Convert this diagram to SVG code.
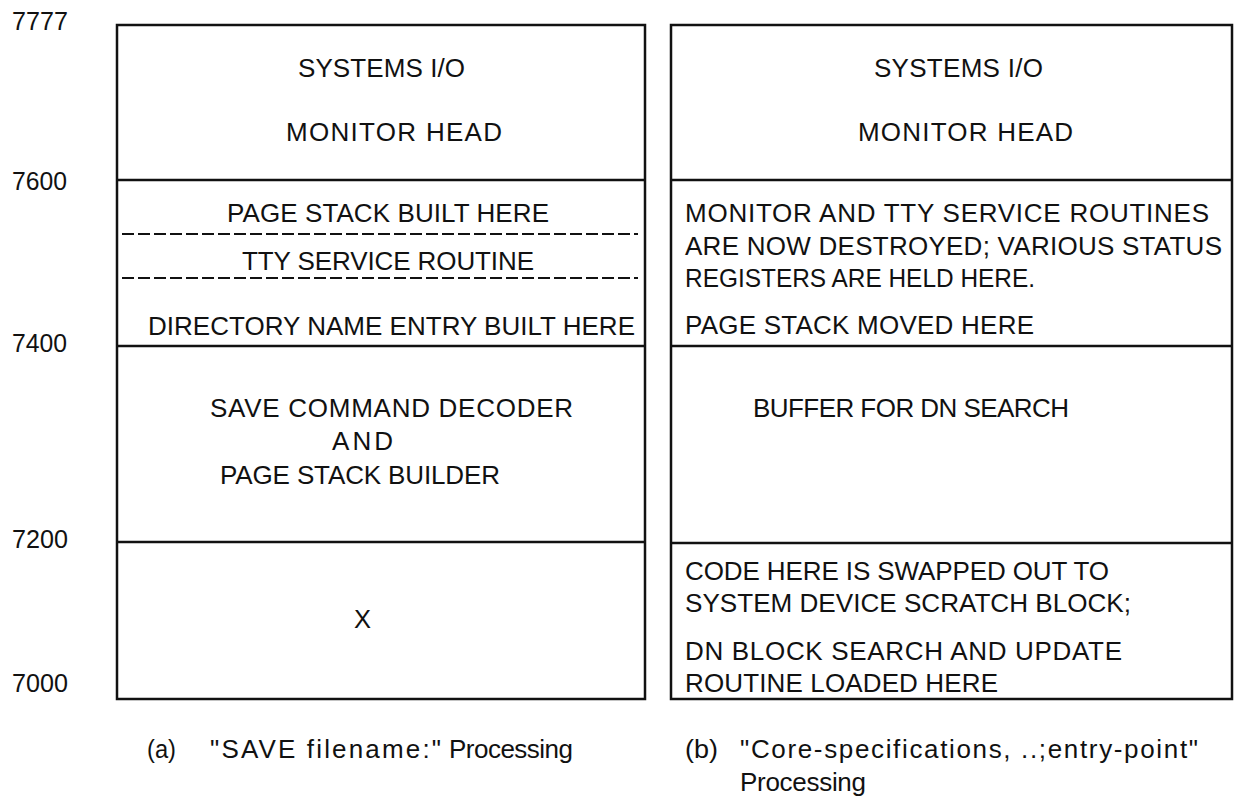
<svg xmlns="http://www.w3.org/2000/svg" width="1234" height="798" viewBox="0 0 1234 798">
<style>
text{font-family:"Liberation Sans","DejaVu Sans",sans-serif;font-size:26px;fill:#111}
.box{fill:none;stroke:#111;stroke-width:2.5}
.sep{stroke:#111;stroke-width:2.5}
.dash{stroke:#111;stroke-width:2;stroke-dasharray:12 4}
</style>
<rect width="1234" height="798" fill="#fff"/>
<g id="addresses">
<text x="12" y="30" textLength="56" lengthAdjust="spacingAndGlyphs">7777</text>
<text x="12" y="190" textLength="55" lengthAdjust="spacingAndGlyphs">7600</text>
<text x="12" y="352" textLength="55" lengthAdjust="spacingAndGlyphs">7400</text>
<text x="12" y="548" textLength="56" lengthAdjust="spacingAndGlyphs">7200</text>
<text x="12" y="692" textLength="56" lengthAdjust="spacingAndGlyphs">7000</text>
</g>
<g id="panel-a">
<rect class="box" x="117" y="25" width="528" height="674"/>
<g id="a-head">
<text x="298" y="77" textLength="167" lengthAdjust="spacing">SYSTEMS I/O</text>
<text x="286" y="141" textLength="216" lengthAdjust="spacing">MONITOR HEAD</text>
</g>
<g id="a-7400">
<line class="sep" x1="117" y1="180" x2="645" y2="180"/>
<text x="227" y="222" textLength="322" lengthAdjust="spacing">PAGE STACK BUILT HERE</text>
<line class="dash" x1="122" y1="234" x2="638" y2="234"/>
<text x="242" y="270" textLength="292" lengthAdjust="spacing">TTY SERVICE ROUTINE</text>
<line class="dash" x1="122" y1="278" x2="638" y2="278"/>
<text x="148" y="335" textLength="487" lengthAdjust="spacing">DIRECTORY NAME ENTRY BUILT HERE</text>
</g>
<g id="a-7200">
<line class="sep" x1="117" y1="346" x2="645" y2="346"/>
<text x="210" y="417" textLength="363" lengthAdjust="spacing">SAVE COMMAND DECODER</text>
<text x="332" y="450" textLength="61" lengthAdjust="spacing">AND</text>
<text x="220" y="484" textLength="280" lengthAdjust="spacing">PAGE STACK BUILDER</text>
</g>
<g id="a-7000">
<line class="sep" x1="117" y1="542" x2="645" y2="542"/>
<text x="354" y="628" textLength="17" lengthAdjust="spacingAndGlyphs">X</text>
</g>
</g>
<g id="panel-b">
<rect class="box" x="671" y="25" width="561" height="674"/>
<g id="b-head">
<text x="874" y="77" textLength="169" lengthAdjust="spacing">SYSTEMS I/O</text>
<text x="858" y="141" textLength="215" lengthAdjust="spacing">MONITOR HEAD</text>
</g>
<g id="b-7400">
<line class="sep" x1="671" y1="180" x2="1232" y2="180"/>
<text x="685" y="222" textLength="524" lengthAdjust="spacing">MONITOR AND TTY SERVICE ROUTINES</text>
<text x="685" y="255" textLength="537" lengthAdjust="spacing">ARE NOW DESTROYED; VARIOUS STATUS</text>
<text x="685" y="287" textLength="350" lengthAdjust="spacingAndGlyphs">REGISTERS ARE HELD HERE.</text>
<text x="685" y="334" textLength="349" lengthAdjust="spacing">PAGE STACK MOVED HERE</text>
</g>
<g id="b-7200">
<line class="sep" x1="671" y1="346" x2="1232" y2="346"/>
<text x="753" y="417" textLength="316" lengthAdjust="spacing">BUFFER FOR DN SEARCH</text>
</g>
<g id="b-7000">
<line class="sep" x1="671" y1="543" x2="1232" y2="543"/>
<text x="685" y="580" textLength="424" lengthAdjust="spacing">CODE HERE IS SWAPPED OUT TO</text>
<text x="685" y="612" textLength="446" lengthAdjust="spacingAndGlyphs">SYSTEM DEVICE SCRATCH BLOCK;</text>
<text x="685" y="660" textLength="437" lengthAdjust="spacing">DN BLOCK SEARCH AND UPDATE</text>
<text x="685" y="692" textLength="313" lengthAdjust="spacing">ROUTINE LOADED HERE</text>
</g>
</g>
<g id="connectors"></g>
<g id="captions">
<text x="147" y="758" textLength="29" lengthAdjust="spacingAndGlyphs">(a)</text>
<text x="210" y="758" textLength="231" lengthAdjust="spacing">"SAVE filename:"</text>
<text x="449" y="758" textLength="124" lengthAdjust="spacing">Processing</text>
<text x="685" y="758" textLength="33" lengthAdjust="spacingAndGlyphs">(b)</text>
<text x="740" y="758" textLength="458" lengthAdjust="spacing">"Core-specifications, ..;entry-point"</text>
<text x="740" y="791" textLength="126" lengthAdjust="spacing">Processing</text>
</g>
</svg>
